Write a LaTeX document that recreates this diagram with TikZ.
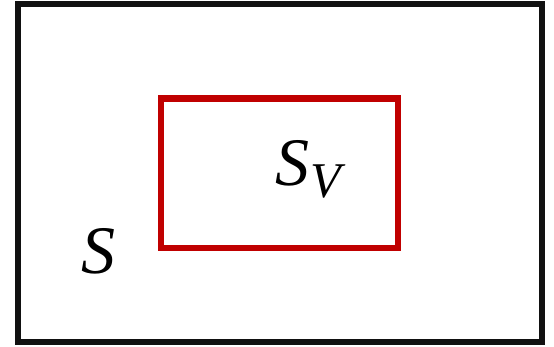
\documentclass[tikz,border=0pt]{standalone}
\usepackage{fontspec}
\setmainfont{Liberation Serif}
\definecolor{boxred}{HTML}{C00000}
\definecolor{boxblack}{HTML}{111111}
\begin{document}
\begin{tikzpicture}[x=1pt,y=-1pt,
  outerbox/.style={draw=boxblack,line width=6.5pt},
  innerbox/.style={draw=boxred,line width=6.5pt},
  biglabel/.style={inner sep=0pt,anchor=base west,font=\fontsize{68}{80}\selectfont\itshape}]
\useasboundingbox (0,0) rectangle (554,346);
\draw[outerbox] (18,4) rectangle (542,342);
\draw[innerbox] (161,98.5) rectangle (398,248);
\node[biglabel] (s) at (81,273) {S};
\node[biglabel] (sv) at (275,185) {S\kern1pt\raisebox{-12pt}{\fontsize{50}{60}\selectfont V}};
\end{tikzpicture}
\end{document}
